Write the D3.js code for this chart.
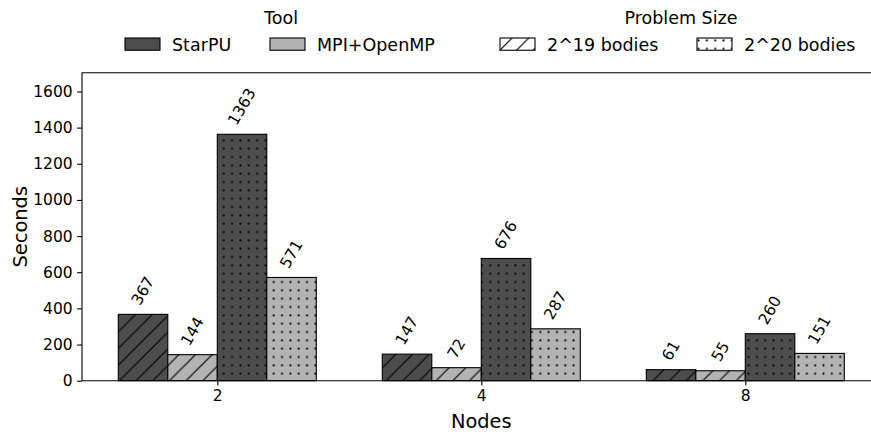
<!DOCTYPE html>
<html>
<head>
<meta charset="utf-8">
<script src="https://cdn.jsdelivr.net/npm/d3@7"></script>
<style>
  html, body { margin: 0; padding: 0; background: #fff; }
  svg { display: block; font-family: "DejaVu Sans", sans-serif; }
</style>
</head>
<body>
<svg id="chart" width="871" height="434"></svg>
<script>
// data
const nodes = ["2", "4", "8"];
const tools = ["StarPU", "MPI+OpenMP"];
const sizes = ["2^19 bodies", "2^20 bodies"];
const starpu19 = [367, 147, 61];
const mpi19 = [144, 72, 55];
const starpu20 = [1363, 676, 260];
const mpi20 = [571, 287, 151];
const yTicks = [0, 200, 400, 600, 800, 1000, 1200, 1400, 1600];

const toolColor = { "StarPU": "#4d4d4d", "MPI+OpenMP": "#b3b3b3" };
const sizeFill = { "2^19 bodies": "url(#hatch-lines)", "2^20 bodies": "url(#hatch-dots)" };

// bar order inside a group
const series = [
  { tool: "StarPU", size: "2^19 bodies", values: starpu19 },
  { tool: "MPI+OpenMP", size: "2^19 bodies", values: mpi19 },
  { tool: "StarPU", size: "2^20 bodies", values: starpu20 },
  { tool: "MPI+OpenMP", size: "2^20 bodies", values: mpi20 }
];

const svg = d3.select("#chart");
const plotLeft = 82, plotTop = 72.7, plotBottom = 380.7;
const barW = 0.1875;
const span = 2 + 4 * barW;
const x = d3.scaleLinear()
  .domain([-2 * barW - 0.05 * span, 2 + 2 * barW + 0.05 * span])
  .range([plotLeft, 880.6]);
const yMax = d3.max(starpu20) * 1.25;
const y = d3.scaleLinear().domain([0, yMax]).range([plotBottom, plotTop]);

// hatch patterns
const defs = svg.append("defs");
const s = 16.67;
const pl = defs.append("pattern")
  .attr("id", "hatch-lines")
  .attr("patternUnits", "userSpaceOnUse")
  .attr("width", s).attr("height", s);
pl.append("path")
  .attr("d", `M0,${s} L${s},0 M${-s / 2},${s / 2} L${s / 2},${-s / 2} M${s / 2},${1.5 * s} L${1.5 * s},${s / 2}`)
  .attr("stroke", "#000").attr("stroke-width", 1.2).attr("fill", "none");

const dd = 8.33;
const pd = defs.append("pattern")
  .attr("id", "hatch-dots")
  .attr("patternUnits", "userSpaceOnUse")
  .attr("x", 3).attr("y", 3)
  .attr("width", dd).attr("height", dd);
pd.append("circle").attr("cx", dd / 2).attr("cy", dd / 2).attr("r", 1.05).attr("fill", "#000");

// bars
const g = svg.append("g");
series.forEach((sr, i) => {
  const off = (i - 1.5) * barW;
  const bars = g.selectAll(null)
    .data(sr.values.map((v, k) => ({ v, k })))
    .join("g");
  bars.append("rect")
    .attr("x", e => x(e.k + off - barW / 2))
    .attr("y", e => y(e.v))
    .attr("width", x(barW) - x(0))
    .attr("height", e => y(0) - y(e.v))
    .attr("fill", toolColor[sr.tool]);
  bars.append("rect")
    .attr("x", e => x(e.k + off - barW / 2))
    .attr("y", e => y(e.v))
    .attr("width", x(barW) - x(0))
    .attr("height", e => y(0) - y(e.v))
    .attr("fill", sizeFill[sr.size])
    .attr("stroke", "#000")
    .attr("stroke-width", 1.1);

  // rotated value labels, bottom-centre of rotated box sits above the bar
  bars.each(function (e) {
    const lg = d3.select(this).append("g");
    lg.append("text")
      .attr("transform", "rotate(-60)")
      .attr("text-anchor", "middle")
      .attr("font-size", "15.5px")
      .attr("fill", "#000")
      .text(e.v);
    const bb = lg.node().getBBox();
    const cx = x(e.k + off);
    const cy = y(e.v) - 6;
    lg.attr("transform", `translate(${cx - (bb.x + bb.width / 2)},${cy - (bb.y + bb.height)})`);
  });
});

// axes
const yAxis = svg.append("g")
  .attr("transform", `translate(${plotLeft},0)`)
  .call(d3.axisLeft(y).tickValues(yTicks).tickSize(4.9).tickPadding(4.5).tickFormat(d3.format("d")));
const xAxis = svg.append("g")
  .attr("transform", `translate(0,${plotBottom})`)
  .call(d3.axisBottom(x).tickValues([0, 1, 2]).tickSize(4.9).tickPadding(4.5).tickFormat((v, i) => nodes[i]));
[yAxis, xAxis].forEach(a => {
  a.select(".domain").remove();
  a.selectAll("line").attr("stroke", "#000").attr("stroke-width", 1.1);
  a.selectAll("text").attr("font-family", "DejaVu Sans").attr("font-size", "15.5px").attr("fill", "#000");
});

// spines (right one falls outside the picture)
svg.append("path")
  .attr("d", `M${plotLeft},${plotBottom} L${plotLeft},${plotTop} L${x.range()[1]},${plotTop}`)
  .attr("fill", "none").attr("stroke", "#000").attr("stroke-width", 1.1);
svg.append("path")
  .attr("d", `M${plotLeft},${plotBottom} L${x.range()[1]},${plotBottom}`)
  .attr("fill", "none").attr("stroke", "#000").attr("stroke-width", 1.1);

svg.append("text")
  .attr("x", (plotLeft + x.range()[1]) / 2).attr("y", 428)
  .attr("text-anchor", "middle").attr("font-size", "19.4px")
  .text("Nodes");
svg.append("text")
  .attr("transform", `translate(27,${(plotTop + plotBottom) / 2}) rotate(-90)`)
  .attr("text-anchor", "middle").attr("font-size", "19.4px")
  .text("Seconds");

// legends
const fs = 17.5;
function legend(title, titleX, items) {
  const lgd = svg.append("g");
  lgd.append("text")
    .attr("x", titleX).attr("y", 24)
    .attr("text-anchor", "middle").attr("font-size", fs + "px")
    .text(title);
  items.forEach(it => {
    lgd.append("rect")
      .attr("x", it.x).attr("y", 38)
      .attr("width", 35).attr("height", 12.25)
      .attr("fill", it.fill);
    if (it.pattern) {
      lgd.append("rect")
        .attr("x", it.x).attr("y", 38)
        .attr("width", 35).attr("height", 12.25)
        .attr("fill", it.pattern);
    }
    lgd.append("rect")
      .attr("x", it.x).attr("y", 38)
      .attr("width", 35).attr("height", 12.25)
      .attr("fill", "none").attr("stroke", "#000").attr("stroke-width", 1.1);
    lgd.append("text")
      .attr("x", it.x + 47).attr("y", 50.5)
      .attr("font-size", fs + "px")
      .text(it.label);
  });
}
legend("Tool", 281, [
  { x: 125, fill: toolColor[tools[0]], label: tools[0] },
  { x: 270, fill: toolColor[tools[1]], label: tools[1] }
]);
legend("Problem Size", 681, [
  { x: 500, fill: "#fff", pattern: sizeFill[sizes[0]], label: sizes[0] },
  { x: 697, fill: "#fff", pattern: sizeFill[sizes[1]], label: sizes[1] }
]);
</script>
</body>
</html>
